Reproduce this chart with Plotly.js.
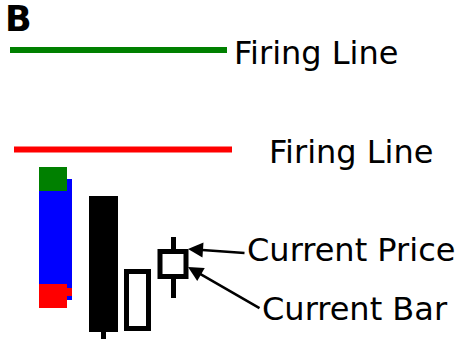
<!DOCTYPE html>
<html>
<head>
<meta charset="utf-8">
<script src="https://cdn.plot.ly/plotly-3.0.1.min.js"></script>
<style>
  html, body { margin: 0; padding: 0; background: #fff; }
  #chart { width: 462px; height: 339px; }
</style>
</head>
<body>
<div id="chart"></div>
<script>
// schematic units: x = horizontal slot, y = price (0 at bottom)
const firingNames = ['Firing Line', 'Firing Line'];
const firingColors = ['#008000', '#ff0000'];
const firingLevels = [289, 189.5];
const firingFrom = [10, 14];
const firingTo = [227, 232];
const firingLabelX = [234, 269];
const firingLabelY = [286, 187.5];

// left signal bar: blue body, green top, red bottom
const sigX = [55.5, 53, 53, 69.5];
const sigWidth = [33, 28, 28, 5];
const sigLow = [39, 148, 31, 43];
const sigHigh = [160, 172, 55, 51];
const sigColors = ['#0000ff', '#008000', '#ff0000', '#ff0000'];

// candles: black, hollow, current
const candleX = [103.5, 137.5, 173];
const candleWidth = [24, 22, 26];
const candleOpen = [140.5, 10.5, 62.5];
const candleClose = [9.5, 67.5, 87.5];
const candleHigh = [140.5, 67.5, 102];
const candleLow = [0, 10.5, 41];
const candleFill = ['#000000', '#ffffff', '#ffffff'];

const calloutText = ['Current Price', 'Current Bar'];
const calloutTipX = [188, 188];
const calloutTipY = [90, 72];
const calloutTailX = [246, 261];
const calloutTailY = [86, 30];
const calloutLabelX = [247, 262];
const calloutLabelY = [89.5, 30];

const traces = [];

// firing lines
firingLevels.forEach(function(lv, i) {
  traces.push({
    x: [firingFrom[i], firingTo[i]], y: [lv, lv],
    type: 'scatter', mode: 'lines',
    line: {color: firingColors[i], width: 6},
    hoverinfo: 'skip'
  });
});

// signal bar pieces
traces.push({
  type: 'bar', x: sigX, width: sigWidth, base: sigLow,
  y: sigHigh.map(function(h, i) { return h - sigLow[i]; }),
  marker: {color: sigColors, line: {width: 0}},
  hoverinfo: 'skip'
});

// wicks (drawn first so bodies cover them)
traces.push({
  type: 'bar', x: candleX, width: candleX.map(function() { return 5; }),
  base: candleLow,
  y: candleHigh.map(function(h, i) { return h - candleLow[i]; }),
  marker: {color: '#000', line: {width: 0}},
  hoverinfo: 'skip'
});

// bodies
traces.push({
  type: 'bar', x: candleX, width: candleWidth,
  base: candleOpen.map(function(o, i) { return Math.min(o, candleClose[i]); }),
  y: candleOpen.map(function(o, i) { return Math.abs(candleClose[i] - o); }),
  marker: {color: candleFill, line: {color: '#000', width: 5}},
  hoverinfo: 'skip'
});

const textFont = {family: 'DejaVu Sans', size: 32, color: '#000'};
const annotations = [];
annotations.push({
  text: '<b>B</b>', x: 5, y: 320.5, xref: 'x', yref: 'y',
  xanchor: 'left', yanchor: 'middle', showarrow: false,
  borderpad: 0, borderwidth: 0,
  font: {family: 'DejaVu Sans', size: 35, color: '#000'}
});
firingNames.forEach(function(t, i) {
  annotations.push({
    text: t, x: firingLabelX[i], y: firingLabelY[i], xref: 'x', yref: 'y',
    xanchor: 'left', yanchor: 'middle', showarrow: false,
    borderpad: 0, borderwidth: 0, font: textFont
  });
});
calloutText.forEach(function(t, i) {
  annotations.push({
    text: t, x: calloutLabelX[i], y: calloutLabelY[i], xref: 'x', yref: 'y',
    xanchor: 'left', yanchor: 'middle', showarrow: false,
    borderpad: 0, borderwidth: 0, font: textFont
  });
  annotations.push({
    text: '', x: calloutTipX[i], y: calloutTipY[i], xref: 'x', yref: 'y',
    ax: calloutTailX[i], ay: calloutTailY[i], axref: 'x', ayref: 'y',
    showarrow: true, arrowhead: 2, arrowsize: 1.2, arrowwidth: 2.5,
    arrowcolor: '#000', standoff: 0, startstandoff: 0
  });
});

const layout = {
  width: 462, height: 339,
  margin: {l: 0, r: 0, t: 0, b: 0},
  paper_bgcolor: '#fff', plot_bgcolor: '#fff',
  showlegend: false, barmode: 'overlay', bargap: 0,
  xaxis: {range: [0, 462], visible: false, fixedrange: true},
  yaxis: {range: [0, 339], visible: false, fixedrange: true},
  annotations: annotations
};

Plotly.newPlot('chart', traces, layout, {displayModeBar: false, staticPlot: true});
</script>
</body>
</html>
